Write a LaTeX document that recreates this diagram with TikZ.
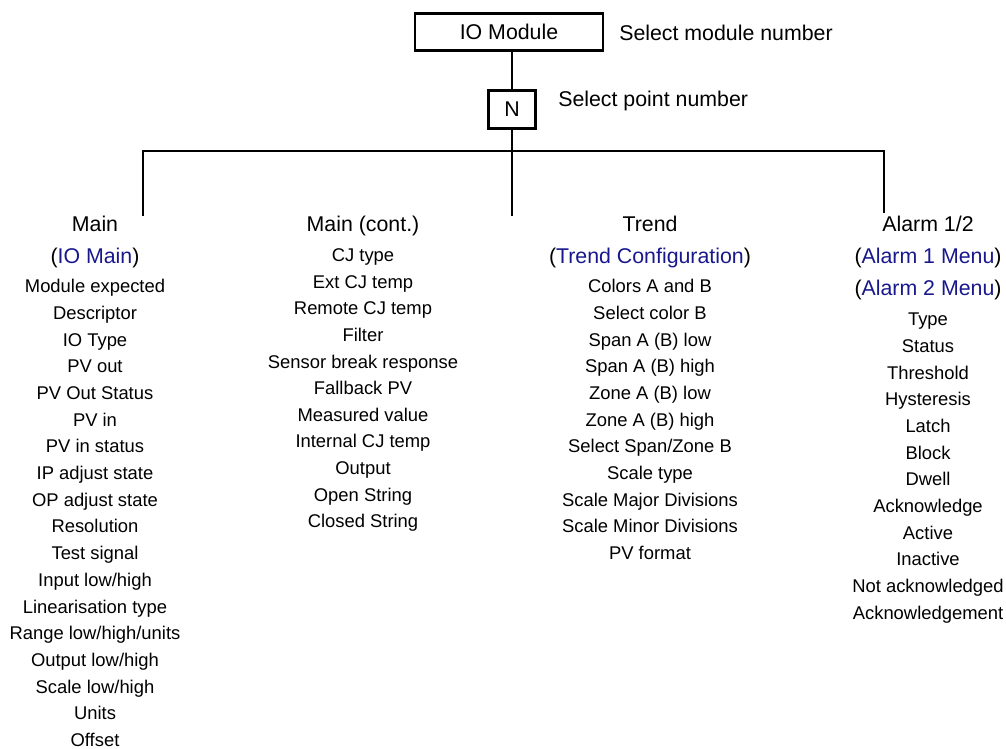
\documentclass[tikz,border=0pt]{standalone}
\usepackage{fontspec}
\setmainfont{Liberation Sans}
\definecolor{menublue}{RGB}{24,24,140}
\newcommand{\menuref}[1]{(\textcolor{menublue}{#1})}
\tikzset{
  menubox/.style={draw, line width=2.2pt, inner sep=0pt, minimum height=28pt, font=\fontsize{16}{18}\selectfont},
  entry/.style={anchor=base, inner sep=1pt},
  heading/.style={entry, font=\fontsize{16}{18}\selectfont},
  note/.style={anchor=base west, inner sep=0pt, font=\fontsize{16}{18}\selectfont},
}
\begin{document}
\begin{tikzpicture}[x=0.75pt, y=-0.75pt, line width=1.9pt, font=\fontsize{13.8}{16}\selectfont]
  \useasboundingbox (0,0) rectangle (1006,749);
  % Module and point selection
  \node[menubox, minimum width=141pt] (module) at (509,32) {IO Module};
  \node[note] (modnote) at (618,40.6) {Select module number};
  \node[menubox, minimum width=35pt] (point) at (512,109.5) {N};
  \node[note] (pointnote) at (557,106.6) {Select point number};
  \draw (point) -- (point |- module.south);
  % Bus to the columns
  \coordinate (busL) at (143,151); \coordinate (busR) at (884,151);
  \coordinate (dropL) at (143,216); \coordinate (dropR) at (884,213);
  \coordinate (dropC) at (512,216);
  \draw (dropL) -- (busL) -- (busR) -- (dropR);
  \draw (point) -- (dropC);
  % Main
  \node[heading] (hmain) at (95,231.6) {Main};
  \node[heading] (lmain) at (95,263.6) {\menuref{IO Main}};
  \foreach \lbl [count=\i] in {Module expected, Descriptor, IO Type, PV out,
      PV Out Status, PV in, PV in status, IP adjust state, OP adjust state,
      Resolution, Test signal, Input low/high, Linearisation type,
      Range low/high/units, Output low/high, Scale low/high, Units, Offset}
    \node[entry] (main\i) at (95,{292.6+26.7*(\i-1)}) {\lbl};
  % Main (cont.)
  \node[heading] (hcont) at (363,231.6) {Main (cont.)};
  \foreach \lbl [count=\i] in {CJ type, Ext CJ temp, Remote CJ temp, Filter,
      Sensor break response, Fallback PV, Measured value, Internal CJ temp,
      Output, Open String, Closed String}
    \node[entry] (cont\i) at (363,{261.6+26.6*(\i-1)}) {\lbl};
  % Trend
  \node[heading] (htrend) at (650,231.6) {Trend};
  \node[heading] (ltrend) at (650,263.6) {\menuref{Trend Configuration}};
  \foreach \lbl [count=\i] in {Colors A and B, Select color B, Span A (B) low,
      Span A (B) high, Zone A (B) low, Zone A (B) high, Select Span/Zone B,
      Scale type, Scale Major Divisions, Scale Minor Divisions, PV format}
    \node[entry] (trend\i) at (650,{292.6+26.7*(\i-1)}) {\lbl};
  % Alarm 1/2
  \node[heading] (halarm) at (928,231.6) {Alarm 1/2};
  \node[heading] (lalarmA) at (928,263.6) {\menuref{Alarm 1 Menu}};
  \node[heading] (lalarmB) at (928,295.6) {\menuref{Alarm 2 Menu}};
  \foreach \lbl [count=\i] in {Type, Status, Threshold, Hysteresis, Latch,
      Block, Dwell, Acknowledge, Active, Inactive, Not acknowledged,
      Acknowledgement}
    \node[entry] (alarm\i) at (928,{325.6+26.7*(\i-1)}) {\lbl};
\end{tikzpicture}
\end{document}
